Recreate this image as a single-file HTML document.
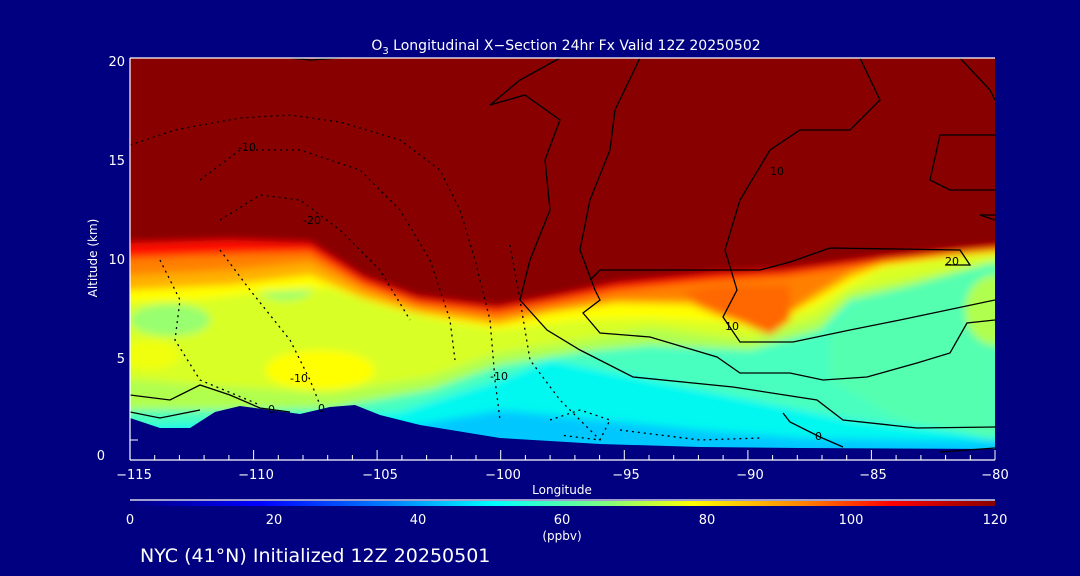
<!DOCTYPE html>
<html><head><meta charset="utf-8"><style>
html,body{margin:0;padding:0;background:#000080;}
svg{display:block;font-family:"DejaVu Sans","Liberation Sans",sans-serif;}
</style></head><body>
<svg width="1080" height="576" viewBox="0 0 1080 576" xmlns="http://www.w3.org/2000/svg">
<defs>
<clipPath id="pc"><rect x="130" y="58" width="865" height="397"/></clipPath>
<filter id="bl" x="-5%" y="-5%" width="110%" height="110%"><feGaussianBlur stdDeviation="4"/></filter>
<linearGradient id="cb" x1="0" x2="1" y1="0" y2="0">
<stop offset="0" stop-color="#000080"/><stop offset="0.15" stop-color="#0000ff"/>
<stop offset="0.3" stop-color="#0080ff"/><stop offset="0.42" stop-color="#00ffff"/>
<stop offset="0.55" stop-color="#80ff80"/><stop offset="0.65" stop-color="#ffff00"/>
<stop offset="0.78" stop-color="#ff8000"/><stop offset="0.88" stop-color="#ff0000"/>
<stop offset="1" stop-color="#880000"/></linearGradient>
</defs>
<rect width="1080" height="576" fill="#000080"/>
<g clip-path="url(#pc)">
<g filter="url(#bl)">
<rect x="100" y="30" width="930" height="460" fill="#00c8ff"/>
<polygon fill="#00f8f0" points="100,30 1030,30 1030,442 800,438 700,430 600,420 500,410 400,428 250,440 100,445"/>
<polygon fill="#48ffc0" points="100,30 1030,30 1030,440 850,420 750,400 650,380 550,360 500,380 400,412 300,420 100,428"/>
<polygon fill="#b0ff50" points="100,30 1030,30 1030,258 850,300 820,330 750,350 650,345 580,352 500,365 430,390 330,408 230,410 100,410"/>
<polygon fill="#55ffb0" points="830,330 860,300 995,262 995,440 900,420 830,380"/>
<ellipse cx="995" cy="310" rx="30" ry="35" fill="#b0ff50"/>
<polygon fill="#d8ff28" points="100,30 1030,30 1030,253 850,292 817,318 750,340 650,328 580,340 497,353 430,377 330,393 230,387 100,377"/>
<ellipse cx="170" cy="320" rx="40" ry="16" fill="#98ff70"/>
<ellipse cx="285" cy="285" rx="30" ry="15" fill="#98ff70"/>
<ellipse cx="320" cy="370" rx="55" ry="20" fill="#ffff00"/>
<ellipse cx="150" cy="355" rx="30" ry="15" fill="#f0ff10"/>
<polygon fill="#ffff00" points="100,30 1030,30 1030,250 960,256 883,268 850,285 817,305 783,320 760,330 717,322 650,318 580,320 497,330 430,318 380,305 330,288 260,292 200,300 130,302 100,302"/>
<polygon fill="#ffb000" points="100,30 1030,30 1030,249 960,254 883,265 850,278 817,298 783,318 760,328 717,316 690,305 617,303 550,313 497,325 417,313 363,298 310,275 230,285 130,290 100,290"/>
<polygon fill="#ff8000" points="100,30 1030,30 1030,248 960,252 883,262 850,272 817,292 783,316 760,326 717,312 690,300 617,300 550,310 497,320 417,308 363,290 310,262 230,270 130,275 100,275"/>
<polygon fill="#ff6800" points="680,292 720,285 790,285 790,320 770,335 740,322 700,305"/>
<polygon fill="#ff1000" points="100,30 1030,30 1030,247 983,252 883,262 783,276 717,280 617,290 550,303 497,313 417,303 363,284 310,252 230,254 130,258 100,258"/>
<polygon fill="#880000" points="100,30 1030,30 1030,243 983,247 883,257 783,270 717,273 617,283 550,297 497,307 417,297 363,277 310,243 230,240 130,243 100,243"/>
</g>
<polygon fill="#000080" points="130,418 160,428 190,428 215,412 240,406 270,410 300,414 330,407 355,405 380,415 420,425 500,438 600,444 700,447 800,448 995,449 995,460 130,460"/>
<g fill="none" stroke="#000" stroke-width="1.3">
<polyline points="290,58 310,60 340,58"/>
<polyline points="560,58 520,80 490,105 525,95 560,120 545,160 550,210 530,260 520,300 547,330 580,350 633,377 733,387 817,400 843,420 917,428 995,427"/>
<polyline points="640,58 615,110 610,150 590,200 580,250 595,290 600,300 583,313 600,333 650,337 717,357 740,373 790,373 823,380 867,377 917,363 950,353 967,323 995,320"/>
<polyline points="860,58 880,100 850,130 800,130 770,150 740,200 725,250 737,290 723,317 740,342 793,342 850,330 900,320 995,300"/>
<polyline points="960,58 990,90 995,100"/>
<polyline points="995,135 940,135 930,180 950,190 995,190"/>
<polyline points="995,215 980,215 995,220"/>
<polyline points="590,280 600,270 690,270 760,270 790,262 830,248 960,250 970,265 945,265"/>
<polyline points="130,395 170,400 200,385 230,395 260,408 290,412"/>
<polyline points="130,412 160,418 200,410"/>
<polyline points="783,413 790,422 820,437 843,447"/>
<polyline points="940,452 995,448"/>
</g>
<g fill="none" stroke="#000" stroke-width="1.3" stroke-dasharray="2,4">
<polyline points="130,145 175,130 240,118 290,115 340,122 400,140 440,170 460,210 475,260 490,320 495,380 500,420"/>
<polyline points="200,180 240,150 300,150 360,170 400,210 430,260 450,320 455,360"/>
<polyline points="220,220 260,195 300,200 340,230 380,270 410,320"/>
<polyline points="160,260 180,300 175,340 200,380 260,405"/>
<polyline points="220,250 250,290 290,340 310,380 320,405"/>
<polyline points="510,245 520,300 530,360 560,400 600,440"/>
<polyline points="550,420 580,410 610,420 600,440 560,435"/>
<polyline points="620,430 700,440 760,438"/>
</g>
<g font-size="11" fill="#000">
<text x="238" y="151">-10</text><text x="303" y="224">-20</text>
<text x="290" y="382">-10</text><text x="490" y="380">-10</text>
<text x="268" y="413">0</text><text x="318" y="412">0</text>
<text x="770" y="175">10</text><text x="725" y="330">10</text>
<text x="815" y="440">0</text><text x="945" y="265">20</text>
</g>
</g>
<g stroke="#fff" stroke-width="1.2" fill="none">
<line x1="130" y1="58" x2="995" y2="58"/>
<line x1="130" y1="58" x2="130" y2="460"/>
<line x1="130" y1="460" x2="995" y2="460"/>
</g>
<g stroke="#fff" stroke-width="1">
<line x1="130" y1="455" x2="130" y2="445"/><line x1="253.6" y1="460" x2="253.6" y2="450"/><line x1="377.1" y1="460" x2="377.1" y2="450"/><line x1="500.7" y1="460" x2="500.7" y2="450"/><line x1="624.3" y1="460" x2="624.3" y2="450"/><line x1="747.9" y1="460" x2="747.9" y2="450"/><line x1="871.4" y1="460" x2="871.4" y2="450"/><line x1="995" y1="460" x2="995" y2="450"/>
<line x1="154.7" y1="460" x2="154.7" y2="455"/><line x1="179.4" y1="460" x2="179.4" y2="455"/><line x1="204.1" y1="460" x2="204.1" y2="455"/><line x1="228.9" y1="460" x2="228.9" y2="455"/>
<line x1="278.3" y1="460" x2="278.3" y2="455"/><line x1="303" y1="460" x2="303" y2="455"/><line x1="327.7" y1="460" x2="327.7" y2="455"/><line x1="352.4" y1="460" x2="352.4" y2="455"/>
<line x1="401.9" y1="460" x2="401.9" y2="455"/><line x1="426.6" y1="460" x2="426.6" y2="455"/><line x1="451.3" y1="460" x2="451.3" y2="455"/><line x1="476" y1="460" x2="476" y2="455"/>
<line x1="525.4" y1="460" x2="525.4" y2="455"/><line x1="550.1" y1="460" x2="550.1" y2="455"/><line x1="574.9" y1="460" x2="574.9" y2="455"/><line x1="599.6" y1="460" x2="599.6" y2="455"/>
<line x1="649" y1="460" x2="649" y2="455"/><line x1="673.7" y1="460" x2="673.7" y2="455"/><line x1="698.4" y1="460" x2="698.4" y2="455"/><line x1="723.1" y1="460" x2="723.1" y2="455"/>
<line x1="772.6" y1="460" x2="772.6" y2="455"/><line x1="797.3" y1="460" x2="797.3" y2="455"/><line x1="822" y1="460" x2="822" y2="455"/><line x1="846.7" y1="460" x2="846.7" y2="455"/>
<line x1="896.1" y1="460" x2="896.1" y2="455"/><line x1="920.9" y1="460" x2="920.9" y2="455"/><line x1="945.6" y1="460" x2="945.6" y2="455"/><line x1="970.3" y1="460" x2="970.3" y2="455"/>
<line x1="130" y1="440" x2="138" y2="440"/>
</g>
<g fill="#fff" font-size="13">
<text x="105" y="460" text-anchor="end">0</text>
<text x="125" y="363" text-anchor="end">5</text>
<text x="125" y="264" text-anchor="end">10</text>
<text x="125" y="165" text-anchor="end">15</text>
<text x="125" y="66" text-anchor="end">20</text>
<g text-anchor="middle">
<text x="134" y="479">−115</text><text x="256" y="479">−110</text><text x="380" y="479">−105</text><text x="503" y="479">−100</text><text x="626" y="479">−95</text><text x="750" y="479">−90</text><text x="873" y="479">−85</text><text x="995" y="479">−80</text>
</g>
<text x="562" y="494" text-anchor="middle" font-size="12">Longitude</text>
<text x="97" y="258" text-anchor="middle" font-size="12" transform="rotate(-90 97 258)">Altitude (km)</text>
<text x="566" y="50" text-anchor="middle" font-size="14">O<tspan font-size="10" dy="4">3</tspan><tspan dy="-4"> Longitudinal X−Section 24hr  Fx Valid 12Z 20250502</tspan></text>
</g>
<line x1="130" y1="500" x2="995" y2="500" stroke="#fff" stroke-width="1.2"/>
<rect x="130" y="501" width="865" height="5" fill="url(#cb)"/>
<g fill="#fff" font-size="13" text-anchor="middle">
<text x="130" y="524">0</text><text x="274" y="524">20</text><text x="418" y="524">40</text><text x="562" y="524">60</text><text x="707" y="524">80</text><text x="851" y="524">100</text><text x="995" y="524">120</text>
<text x="562" y="540" font-size="12">(ppbv)</text>
</g>
<text x="140" y="562" fill="#fff" font-size="19">NYC (41°N) Initialized 12Z 20250501</text>
</svg>
</body></html>
